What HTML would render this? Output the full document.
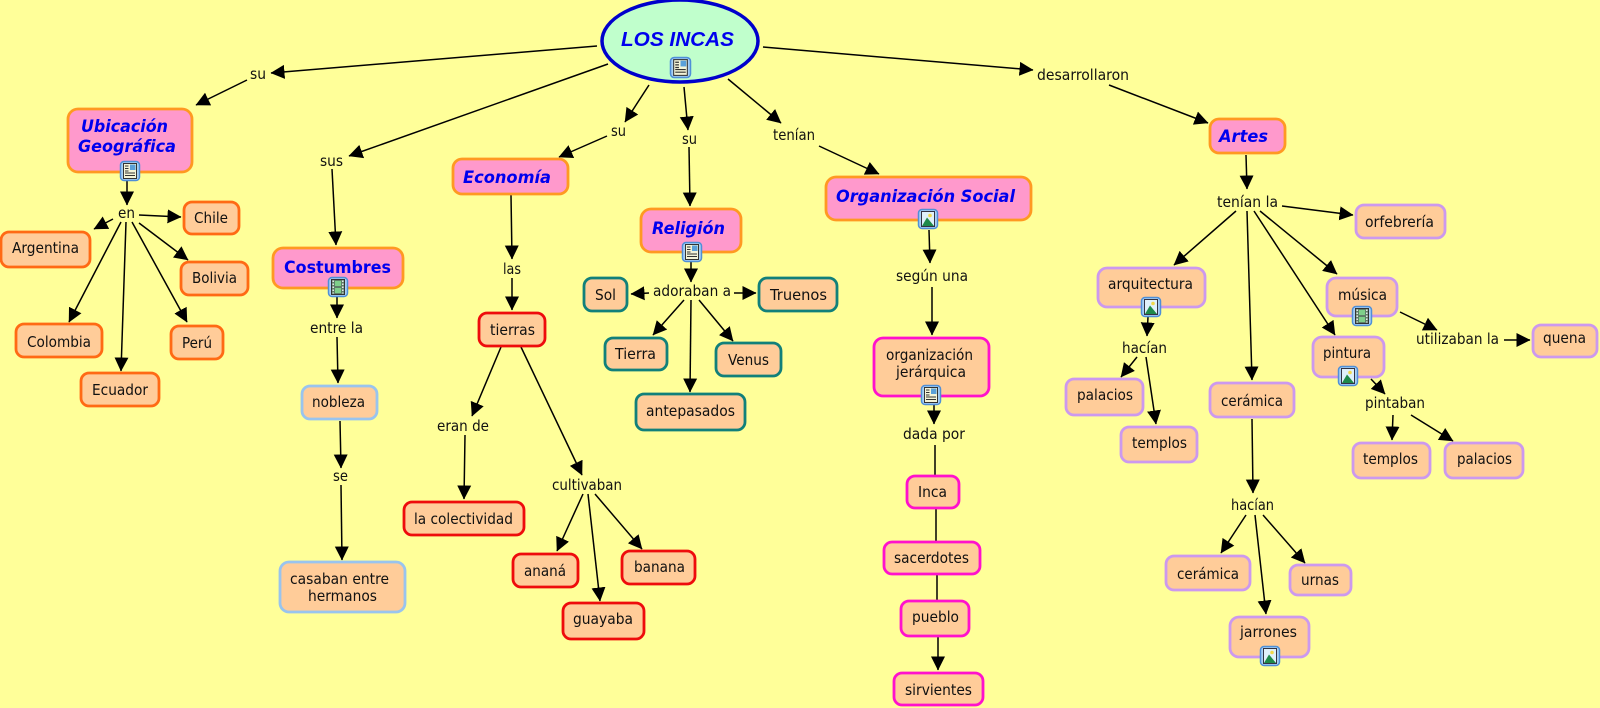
<!DOCTYPE html>
<html lang="es"><head><meta charset="utf-8"><title>Los Incas</title>
<style>
html,body{margin:0;padding:0;background:#ffff99;width:1600px;height:708px;overflow:hidden}
svg{display:block;filter:blur(.35px)}
text{font-family:"DejaVu Sans","Liberation Sans",sans-serif;font-size:15px;fill:#111}
.t text{font-weight:bold;font-style:italic;font-size:17px;fill:#0000ee}
.l line{stroke:#000;stroke-width:1.5;marker-end:url(#a)}
.n line{stroke:#000;stroke-width:1.5}
rect{stroke-width:2.8}
.T rect{fill:#ff99cc;stroke:#ff9922}
.o rect{fill:#ffcc99;stroke:#ff6a14}
.b rect{fill:#ffcc99;stroke:#99c4ee}
.r rect{fill:#ffcc99;stroke:#ee0c0c}
.g rect{fill:#ffcc99;stroke:#11807a}
.m rect{fill:#ffcc99;stroke:#ff11cc}
.p rect{fill:#ffcc99;stroke:#cc99ee}
</style></head><body>
<svg xmlns="http://www.w3.org/2000/svg" width="1600" height="708" viewBox="0 0 1600 708">
<defs>
<marker id="a" markerUnits="userSpaceOnUse" markerWidth="15" markerHeight="15" refX="13.500" refY="7.500" orient="auto"><path d="M0,0.5 L14,7.5 L0,14.5 z" fill="#000"/></marker>
<symbol id="doc" viewBox="0 0 20 20" overflow="visible">
<rect x="0.5" y="0.5" width="19" height="19" rx="3.5" style="fill:#a8d0f4;stroke:#4f8fd8;stroke-width:1.5"/>
<rect x="3.5" y="2.5" width="13" height="15" style="fill:#f4f4d8;stroke:#333;stroke-width:1"/>
<rect x="10" y="3.500" width="5.500" height="5.500" style="fill:#5aa0d8;stroke:none"/>
<path d="M5,5h3.500M5,7.500h3.500M5,10h3.500M5,12h10M5,14.500h10" stroke="#333" stroke-width="1.100"/>
</symbol>
<symbol id="film" viewBox="0 0 20 20" overflow="visible">
<rect x="0.5" y="0.5" width="19" height="19" rx="3.5" style="fill:#a8d0f4;stroke:#4f8fd8;stroke-width:1.5"/>
<rect x="3.5" y="2.5" width="13" height="15" style="fill:#5f7f68;stroke:#333;stroke-width:1"/>
<rect x="7" y="4" width="6" height="5" style="fill:#7fd08a;stroke:none"/>
<rect x="7" y="11" width="6" height="5" style="fill:#7fd08a;stroke:none"/>
<path d="M5.200,3.500v13M14.800,3.500v13" stroke="#eee" stroke-width="1.500" stroke-dasharray="1.500 1.500"/>
</symbol>
<symbol id="pic" viewBox="0 0 20 20" overflow="visible">
<rect x="0.5" y="0.5" width="19" height="19" rx="3.5" style="fill:#a8d0f4;stroke:#4f8fd8;stroke-width:1.5"/>
<rect x="3.5" y="2.5" width="13" height="15" style="fill:#dff0fa;stroke:#334;stroke-width:1"/>
<circle cx="12" cy="6.500" r="1.800" fill="#f2d84a"/>
<path d="M4,17 L9,8.500 L16,17 z" fill="#1f8a4a"/>
</symbol>
</defs>
<rect x="0" y="0" width="1600" height="708" style="fill:#ffff99;stroke:none"/>

<g class="l">
<line x1="597" y1="46" x2="271" y2="73"/>
<line x1="247" y1="80" x2="196" y2="105"/>
<line x1="608" y1="64" x2="349" y2="156"/>
<line x1="332" y1="169" x2="336" y2="245"/>
<line x1="649" y1="85" x2="625" y2="122"/>
<line x1="607" y1="136" x2="559" y2="157"/>
<line x1="684" y1="87" x2="688" y2="130"/>
<line x1="689" y1="147" x2="690" y2="206"/>
<line x1="728" y1="79" x2="781" y2="123"/>
<line x1="819" y1="146" x2="879" y2="174"/>
<line x1="763" y1="47" x2="1033" y2="70"/>
<line x1="1109" y1="85" x2="1208" y2="123"/>
<line x1="127" y1="181" x2="127" y2="205"/>
<line x1="139" y1="215" x2="181" y2="217"/>
<line x1="113" y1="219" x2="94" y2="229"/>
<line x1="121" y1="222" x2="69" y2="322"/>
<line x1="126" y1="222" x2="121" y2="371"/>
<line x1="132" y1="222" x2="187" y2="322"/>
<line x1="139" y1="223" x2="188" y2="260"/>
<line x1="337" y1="297" x2="337" y2="318"/>
<line x1="337" y1="337" x2="338" y2="383"/>
<line x1="340" y1="421" x2="341" y2="468"/>
<line x1="341" y1="485" x2="342" y2="560"/>
<line x1="511" y1="195" x2="512" y2="259"/>
<line x1="512" y1="278" x2="512" y2="310"/>
<line x1="501" y1="347" x2="472" y2="416"/>
<line x1="465" y1="435" x2="464" y2="499"/>
<line x1="521" y1="347" x2="582" y2="475"/>
<line x1="583" y1="494" x2="557" y2="551"/>
<line x1="588" y1="494" x2="600" y2="601"/>
<line x1="595" y1="494" x2="642" y2="549"/>
<line x1="691" y1="262" x2="691" y2="282"/>
<line x1="649" y1="293" x2="631" y2="294"/>
<line x1="734" y1="293" x2="756" y2="293"/>
<line x1="684" y1="300" x2="653" y2="335"/>
<line x1="691" y1="300" x2="690" y2="392"/>
<line x1="699" y1="300" x2="733" y2="341"/>
<line x1="929" y1="230" x2="930" y2="263"/>
<line x1="932" y1="287" x2="932" y2="335"/>
<line x1="934" y1="405" x2="934" y2="424"/>
<line x1="938" y1="636" x2="938" y2="670"/>
<line x1="1246" y1="155" x2="1247" y2="189"/>
<line x1="1282" y1="206" x2="1353" y2="215"/>
<line x1="1236" y1="211" x2="1174" y2="265"/>
<line x1="1247" y1="211" x2="1252" y2="380"/>
<line x1="1254" y1="211" x2="1335" y2="335"/>
<line x1="1260" y1="211" x2="1337" y2="274"/>
<line x1="1400" y1="312" x2="1437" y2="330"/>
<line x1="1504" y1="340" x2="1530" y2="340"/>
<line x1="1148" y1="317" x2="1147" y2="336"/>
<line x1="1137" y1="357" x2="1121" y2="377"/>
<line x1="1146" y1="357" x2="1156" y2="424"/>
<line x1="1252" y1="419" x2="1253" y2="493"/>
<line x1="1246" y1="515" x2="1221" y2="553"/>
<line x1="1255" y1="515" x2="1266" y2="614"/>
<line x1="1263" y1="515" x2="1305" y2="563"/>
<line x1="1371" y1="379" x2="1385" y2="394"/>
<line x1="1393" y1="415" x2="1392" y2="440"/>
<line x1="1411" y1="415" x2="1453" y2="441"/>
</g>
<g class="n">
<line x1="935" y1="445" x2="935" y2="476"/>
<line x1="936" y1="508" x2="936" y2="542"/>
<line x1="937" y1="574" x2="937" y2="601"/>
</g>

<ellipse cx="680" cy="41" rx="78" ry="41" fill="#c0ffcc" stroke="#0000cc" stroke-width="3.5"/>

<g class="T">
<rect x="68" y="109" width="124" height="63" rx="10"/>
<rect x="273" y="248" width="130" height="40" rx="10"/>
<rect x="453" y="159" width="115" height="35" rx="9"/>
<rect x="641" y="209" width="100" height="43" rx="10"/>
<rect x="826" y="177" width="205" height="43" rx="10"/>
<rect x="1210" y="119" width="75" height="34" rx="9"/>
</g>
<g class="o">
<rect x="184" y="202" width="55" height="32" rx="8"/>
<rect x="1" y="232" width="89" height="35" rx="8"/>
<rect x="181" y="262" width="67" height="33" rx="8"/>
<rect x="16" y="324" width="86" height="33" rx="8"/>
<rect x="171" y="326" width="52" height="33" rx="8"/>
<rect x="81" y="373" width="78" height="33" rx="8"/>
</g>
<g class="b">
<rect x="302" y="386" width="75" height="33" rx="8"/>
<rect x="280" y="562" width="125" height="50" rx="9"/>
</g>
<g class="r">
<rect x="479" y="313" width="66" height="33" rx="8"/>
<rect x="404" y="502" width="120" height="33" rx="8"/>
<rect x="513" y="554" width="65" height="33" rx="8"/>
<rect x="622" y="551" width="73" height="33" rx="8"/>
<rect x="563" y="603" width="81" height="36" rx="8"/>
</g>
<g class="g">
<rect x="584" y="278" width="43" height="33" rx="8"/>
<rect x="759" y="278" width="78" height="33" rx="8"/>
<rect x="605" y="338" width="62" height="32" rx="8"/>
<rect x="716" y="343" width="65" height="33" rx="8"/>
<rect x="636" y="394" width="109" height="36" rx="8"/>
</g>
<g class="m">
<rect x="874" y="338" width="115" height="58" rx="9"/>
<rect x="907" y="476" width="52" height="32" rx="8"/>
<rect x="884" y="542" width="96" height="32" rx="8"/>
<rect x="901" y="601" width="68" height="35" rx="8"/>
<rect x="894" y="673" width="89" height="32" rx="8"/>
</g>
<g class="p">
<rect x="1356" y="205" width="89" height="33" rx="8"/>
<rect x="1098" y="268" width="107" height="39" rx="9"/>
<rect x="1327" y="278" width="70" height="38" rx="9"/>
<rect x="1533" y="325" width="64" height="32" rx="8"/>
<rect x="1313" y="337" width="71" height="40" rx="9"/>
<rect x="1066" y="379" width="77" height="36" rx="8"/>
<rect x="1121" y="427" width="76" height="35" rx="8"/>
<rect x="1210" y="383" width="84" height="34" rx="8"/>
<rect x="1353" y="443" width="77" height="35" rx="8"/>
<rect x="1445" y="443" width="78" height="35" rx="8"/>
<rect x="1166" y="556" width="84" height="34" rx="8"/>
<rect x="1290" y="565" width="61" height="30" rx="8"/>
<rect x="1230" y="617" width="79" height="40" rx="9"/>
</g>

<use href="#doc" x="670" y="57" width="21" height="21"/>
<use href="#doc" x="120" y="161" width="20" height="20"/>
<use href="#film" x="328" y="277" width="20" height="20"/>
<use href="#doc" x="682" y="242" width="20" height="20"/>
<use href="#pic" x="918" y="209" width="20" height="20"/>
<use href="#doc" x="921" y="385" width="20" height="20"/>
<use href="#pic" x="1141" y="297" width="20" height="20"/>
<use href="#film" x="1352" y="306" width="20" height="20"/>
<use href="#pic" x="1338" y="366" width="20" height="20"/>
<use href="#pic" x="1260" y="646" width="20" height="20"/>

<g class="t">
<text x="621" y="46" textLength="113" lengthAdjust="spacingAndGlyphs" style="font-family:'Liberation Sans',sans-serif;font-size:20px">LOS INCAS</text>
<text x="81" y="132" textLength="87" lengthAdjust="spacingAndGlyphs">Ubicación</text>
<text x="78" y="152" textLength="98" lengthAdjust="spacingAndGlyphs">Geográfica</text>
<text x="284" y="273" textLength="107" lengthAdjust="spacingAndGlyphs" style="font-style:normal">Costumbres</text>
<text x="463" y="183" textLength="88" lengthAdjust="spacingAndGlyphs">Economía</text>
<text x="652" y="234" textLength="73" lengthAdjust="spacingAndGlyphs">Religión</text>
<text x="836" y="202" textLength="179" lengthAdjust="spacingAndGlyphs">Organización Social</text>
<text x="1219" y="142" textLength="49" lengthAdjust="spacingAndGlyphs">Artes</text>
</g>

<g>
<text x="194" y="223" textLength="34" lengthAdjust="spacingAndGlyphs">Chile</text>
<text x="12" y="253" textLength="67" lengthAdjust="spacingAndGlyphs">Argentina</text>
<text x="192" y="283" textLength="45" lengthAdjust="spacingAndGlyphs">Bolivia</text>
<text x="27" y="347" textLength="64" lengthAdjust="spacingAndGlyphs">Colombia</text>
<text x="182" y="348" textLength="30" lengthAdjust="spacingAndGlyphs">Perú</text>
<text x="92" y="395" textLength="56" lengthAdjust="spacingAndGlyphs">Ecuador</text>
<text x="118" y="218" textLength="17" lengthAdjust="spacingAndGlyphs">en</text>
<text x="250" y="79" textLength="16" lengthAdjust="spacingAndGlyphs">su</text>
<text x="320" y="166" textLength="23" lengthAdjust="spacingAndGlyphs">sus</text>
<text x="611" y="136" textLength="15" lengthAdjust="spacingAndGlyphs">su</text>
<text x="682" y="144" textLength="15" lengthAdjust="spacingAndGlyphs">su</text>
<text x="773" y="140" textLength="42" lengthAdjust="spacingAndGlyphs">tenían</text>
<text x="1037" y="80" textLength="92" lengthAdjust="spacingAndGlyphs">desarrollaron</text>
<text x="503" y="274" textLength="18" lengthAdjust="spacingAndGlyphs">las</text>
<text x="310" y="333" textLength="53" lengthAdjust="spacingAndGlyphs">entre la</text>
<text x="653" y="296" textLength="78" lengthAdjust="spacingAndGlyphs">adoraban a</text>
<text x="595" y="300" textLength="21" lengthAdjust="spacingAndGlyphs">Sol</text>
<text x="770" y="300" textLength="57" lengthAdjust="spacingAndGlyphs">Truenos</text>
<text x="490" y="335" textLength="45" lengthAdjust="spacingAndGlyphs">tierras</text>
<text x="615" y="359" textLength="41" lengthAdjust="spacingAndGlyphs">Tierra</text>
<text x="728" y="365" textLength="41" lengthAdjust="spacingAndGlyphs">Venus</text>
<text x="646" y="416" textLength="89" lengthAdjust="spacingAndGlyphs">antepasados</text>
<text x="312" y="407" textLength="53" lengthAdjust="spacingAndGlyphs">nobleza</text>
<text x="333" y="481" textLength="15" lengthAdjust="spacingAndGlyphs">se</text>
<text x="290" y="584" textLength="99" lengthAdjust="spacingAndGlyphs">casaban entre</text>
<text x="308" y="601" textLength="69" lengthAdjust="spacingAndGlyphs">hermanos</text>
<text x="437" y="431" textLength="52" lengthAdjust="spacingAndGlyphs">eran de</text>
<text x="552" y="490" textLength="70" lengthAdjust="spacingAndGlyphs">cultivaban</text>
<text x="414" y="524" textLength="99" lengthAdjust="spacingAndGlyphs">la colectividad</text>
<text x="524" y="576" textLength="42" lengthAdjust="spacingAndGlyphs">ananá</text>
<text x="634" y="572" textLength="51" lengthAdjust="spacingAndGlyphs">banana</text>
<text x="573" y="624" textLength="60" lengthAdjust="spacingAndGlyphs">guayaba</text>
<text x="896" y="281" textLength="72" lengthAdjust="spacingAndGlyphs">según una</text>
<text x="886" y="360" textLength="87" lengthAdjust="spacingAndGlyphs">organización</text>
<text x="896" y="377" textLength="70" lengthAdjust="spacingAndGlyphs">jerárquica</text>
<text x="903" y="439" textLength="62" lengthAdjust="spacingAndGlyphs">dada por</text>
<text x="918" y="497" textLength="29" lengthAdjust="spacingAndGlyphs">Inca</text>
<text x="894" y="563" textLength="75" lengthAdjust="spacingAndGlyphs">sacerdotes</text>
<text x="912" y="622" textLength="47" lengthAdjust="spacingAndGlyphs">pueblo</text>
<text x="905" y="695" textLength="67" lengthAdjust="spacingAndGlyphs">sirvientes</text>
<text x="1217" y="207" textLength="61" lengthAdjust="spacingAndGlyphs">tenían la</text>
<text x="1365" y="227" textLength="69" lengthAdjust="spacingAndGlyphs">orfebrería</text>
<text x="1108" y="289" textLength="85" lengthAdjust="spacingAndGlyphs">arquitectura</text>
<text x="1122" y="353" textLength="45" lengthAdjust="spacingAndGlyphs">hacían</text>
<text x="1338" y="300" textLength="49" lengthAdjust="spacingAndGlyphs">música</text>
<text x="1416" y="344" textLength="83" lengthAdjust="spacingAndGlyphs">utilizaban la</text>
<text x="1543" y="343" textLength="43" lengthAdjust="spacingAndGlyphs">quena</text>
<text x="1323" y="358" textLength="48" lengthAdjust="spacingAndGlyphs">pintura</text>
<text x="1365" y="408" textLength="60" lengthAdjust="spacingAndGlyphs">pintaban</text>
<text x="1077" y="400" textLength="56" lengthAdjust="spacingAndGlyphs">palacios</text>
<text x="1132" y="448" textLength="55" lengthAdjust="spacingAndGlyphs">templos</text>
<text x="1221" y="406" textLength="62" lengthAdjust="spacingAndGlyphs">cerámica</text>
<text x="1363" y="464" textLength="55" lengthAdjust="spacingAndGlyphs">templos</text>
<text x="1457" y="464" textLength="55" lengthAdjust="spacingAndGlyphs">palacios</text>
<text x="1231" y="510" textLength="43" lengthAdjust="spacingAndGlyphs">hacían</text>
<text x="1177" y="579" textLength="62" lengthAdjust="spacingAndGlyphs">cerámica</text>
<text x="1301" y="585" textLength="38" lengthAdjust="spacingAndGlyphs">urnas</text>
<text x="1240" y="637" textLength="57" lengthAdjust="spacingAndGlyphs">jarrones</text>
</g>
</svg>
</body></html>
